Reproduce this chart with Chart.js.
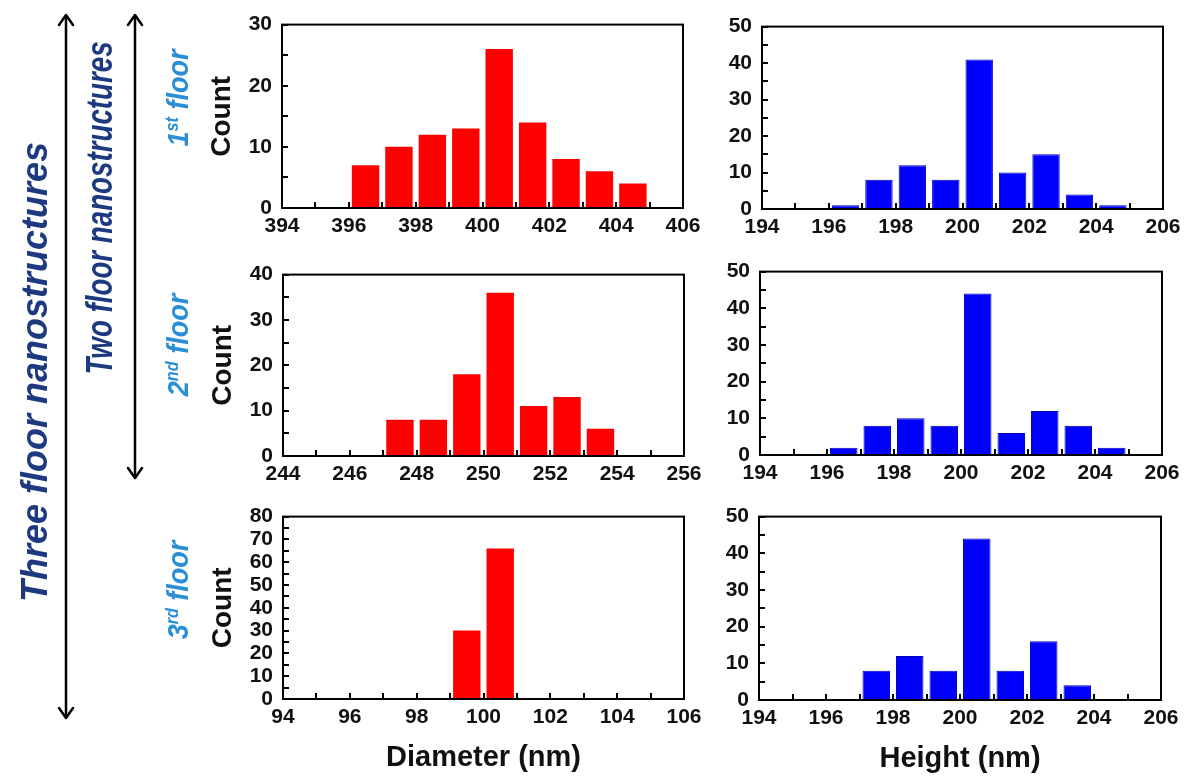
<!DOCTYPE html>
<html><head><meta charset="utf-8">
<script src="https://cdn.jsdelivr.net/npm/chart.js@4.4.1/dist/chart.umd.min.js"></script>
<style>
html,body{margin:0;padding:0;background:#fff;}
body{width:1190px;height:778px;position:relative;overflow:hidden;font-family:"Liberation Sans",Arial,sans-serif;}
canvas{position:absolute;}
.rot{position:absolute;white-space:nowrap;line-height:1;font-weight:bold;font-style:italic;transform-origin:center center;z-index:5;}
.navy{color:#1d3a80;font-size:36px;}
.floor{color:#2b8fd6;font-size:30px;}
.sup{font-size:0.6em;position:relative;top:-0.55em;}
</style></head><body>

<svg width="200" height="778" style="position:absolute;left:0;top:0;z-index:4">
 <g stroke="#000" stroke-width="2.5" fill="none" stroke-linecap="round" stroke-linejoin="round">
  <line x1="66" y1="16" x2="66" y2="717"/>
  <polyline points="59,25 66,15 73,25"/>
  <polyline points="59,708 66,718 73,708"/>
  <line x1="135" y1="16" x2="135" y2="477"/>
  <polyline points="128,25 135,15 142,25"/>
  <polyline points="128,468 135,478 142,468"/>
 </g>
</svg>

<div class="rot navy" style="left:35px;top:372px;transform:translate(-50%,-50%) rotate(-90deg);">Three floor nanostructures</div>
<div class="rot navy" style="left:100px;top:208px;transform:translate(-50%,-50%) rotate(-90deg) scaleX(0.77);">Two floor nanostructures</div>
<div class="rot floor" style="left:178px;top:98px;transform:translate(-50%,-50%) rotate(-90deg) scaleX(0.9);">1<span class="sup">st</span> floor</div>
<div class="rot floor" style="left:178px;top:345px;transform:translate(-50%,-50%) rotate(-90deg) scaleX(0.9);">2<span class="sup">nd</span> floor</div>
<div class="rot floor" style="left:178px;top:590px;transform:translate(-50%,-50%) rotate(-90deg) scaleX(0.9);">3<span class="sup">rd</span> floor</div>

<canvas id="p1"></canvas><canvas id="p2"></canvas><canvas id="p3"></canvas>
<canvas id="p4"></canvas><canvas id="p5"></canvas><canvas id="p6"></canvas>

<script>
// ---- data ----
const countTitle = 'Count';
const diameterTitle = 'Diameter (nm)';
const heightTitle = 'Height (nm)';

// 1st floor
const d1Bins = [396.5, 397.5, 398.5, 399.5, 400.5, 401.5, 402.5, 403.5, 404.5];
const d1Counts = [7, 10, 12, 13, 26, 14, 8, 6, 4];
const d1Range = [394, 406];
const h1Bins = [196.5, 197.5, 198.5, 199.5, 200.5, 201.5, 202.5, 203.5, 204.5];
const h1Counts = [1, 8, 12, 8, 41, 10, 15, 4, 1];
const h1Range = [194, 206];

// 2nd floor
const d2Bins = [247.5, 248.5, 249.5, 250.5, 251.5, 252.5, 253.5];
const d2Counts = [8, 8, 18, 36, 11, 13, 6];
const d2Range = [244, 256];
const h2Bins = [196.5, 197.5, 198.5, 199.5, 200.5, 201.5, 202.5, 203.5, 204.5];
const h2Counts = [2, 8, 10, 8, 44, 6, 12, 8, 2];
const h2Range = [194, 206];

// 3rd floor
const d3Bins = [99.5, 100.5];
const d3Counts = [30, 66];
const d3Range = [94, 106];
const h3Bins = [197.5, 198.5, 199.5, 200.5, 201.5, 202.5, 203.5];
const h3Counts = [8, 12, 8, 44, 8, 16, 4];
const h3Range = [194, 206];

const yMaxes = [30, 50, 40, 50, 80, 50];

// ---- layout / style ----
const FONT = '"Liberation Sans", Arial, sans-serif';
const RED = '#ff0000', BLUE = '#0000ff';
const panels = [
  {id:'p1', bins:d1Bins, counts:d1Counts, xr:d1Range, ymax:yMaxes[0], color:RED,  box:[282,16,683,208], yTitle:true,  xTitle:null},
  {id:'p2', bins:h1Bins, counts:h1Counts, xr:h1Range, ymax:yMaxes[1], color:BLUE, box:[762,18,1163,209], yTitle:false, xTitle:null},
  {id:'p3', bins:d2Bins, counts:d2Counts, xr:d2Range, ymax:yMaxes[2], color:RED,  box:[283,266,684,456], yTitle:true,  xTitle:null},
  {id:'p4', bins:h2Bins, counts:h2Counts, xr:h2Range, ymax:yMaxes[3], color:BLUE, box:[760,263,1162,455], yTitle:false, xTitle:null},
  {id:'p5', bins:d3Bins, counts:d3Counts, xr:d3Range, ymax:yMaxes[4], color:RED,  box:[283,508,684,699], yTitle:true,  xTitle:diameterTitle},
  {id:'p6', bins:h3Bins, counts:h3Counts, xr:h3Range, ymax:yMaxes[5], color:BLUE, box:[759,508,1161,700], yTitle:false, xTitle:heightTitle}
];

const framePlugin = {
  id: 'frame',
  afterDraw(chart) {
    const {ctx, chartArea: a, scales: {x, y}} = chart;
    ctx.save();
    ctx.strokeStyle = '#000';
    ctx.lineWidth = 2;
    ctx.beginPath();
    x.ticks.forEach(t => {
      const px = Math.round(x.getPixelForValue(t.value));
      ctx.moveTo(px, a.bottom); ctx.lineTo(px, a.bottom - 6);
    });
    y.ticks.forEach(t => {
      const py = Math.round(y.getPixelForValue(t.value));
      ctx.moveTo(a.left, py); ctx.lineTo(a.left + 6, py);
    });
    ctx.stroke();
    ctx.strokeRect(a.left, a.top, a.right - a.left, a.bottom - a.top);
    ctx.restore();
  }
};

const padL = 100, padT = 14, padR = 32;
panels.forEach(p => {
  const [L, T, R, B] = p.box;
  const padB = p.xTitle ? 76 : 40;
  const cv = document.getElementById(p.id);
  cv.width = R - L + padL + padR;
  cv.height = B - T + padT + padB;
  cv.style.left = (L - padL) + 'px';
  cv.style.top = (T - padT) + 'px';
  new Chart(cv, {
    type: 'bar',
    data: {
      datasets: [{
        data: p.bins.map((b, i) => ({x: b, y: p.counts[i]})),
        backgroundColor: p.color,
        borderColor: p.color === BLUE ? '#0000b8' : p.color,
        borderWidth: p.color === BLUE ? 1 : 0,
        borderSkipped: false,
        barPercentage: 0.82,
        categoryPercentage: 1
      }]
    },
    options: {
      responsive: false, animation: false, devicePixelRatio: 1,
      layout: {padding: {top: padT, right: padR, left: 0, bottom: 0}},
      plugins: {legend: {display: false}, tooltip: {enabled: false}},
      scales: {
        x: {
          type: 'linear', min: p.xr[0], max: p.xr[1], offset: false,
          grid: {display: false, drawTicks: false, offset: false},
          border: {display: false},
          ticks: {stepSize: 1, autoSkip: false, maxRotation: 0, minRotation: 0, padding: 6,
                  color: '#111', font: {family: FONT, size: 21, weight: 'bold'},
                  callback: v => (v % 2 === 0 ? String(v) : '')},
          title: {display: !!p.xTitle, text: p.xTitle || '', color: '#111',
                  font: {family: FONT, size: 29, weight: 'bold'}, padding: {top: 0, bottom: 0}},
          afterFit: s => { s.height = padB; }
        },
        y: {
          min: 0, max: p.ymax,
          grid: {display: false, drawTicks: false},
          border: {display: false},
          ticks: {stepSize: 5, autoSkip: false, padding: 10, color: '#111',
                  font: {family: FONT, size: 21, weight: 'bold'},
                  callback: v => (v % 10 === 0 ? String(v) : '')},
          title: {display: p.yTitle, text: countTitle, color: '#111',
                  font: {family: FONT, size: 28, weight: 'bold'}, padding: {top: 23, bottom: 0}},
          afterFit: s => { s.width = padL; }
        }
      }
    },
    plugins: [framePlugin]
  });
});
</script>
</body></html>
